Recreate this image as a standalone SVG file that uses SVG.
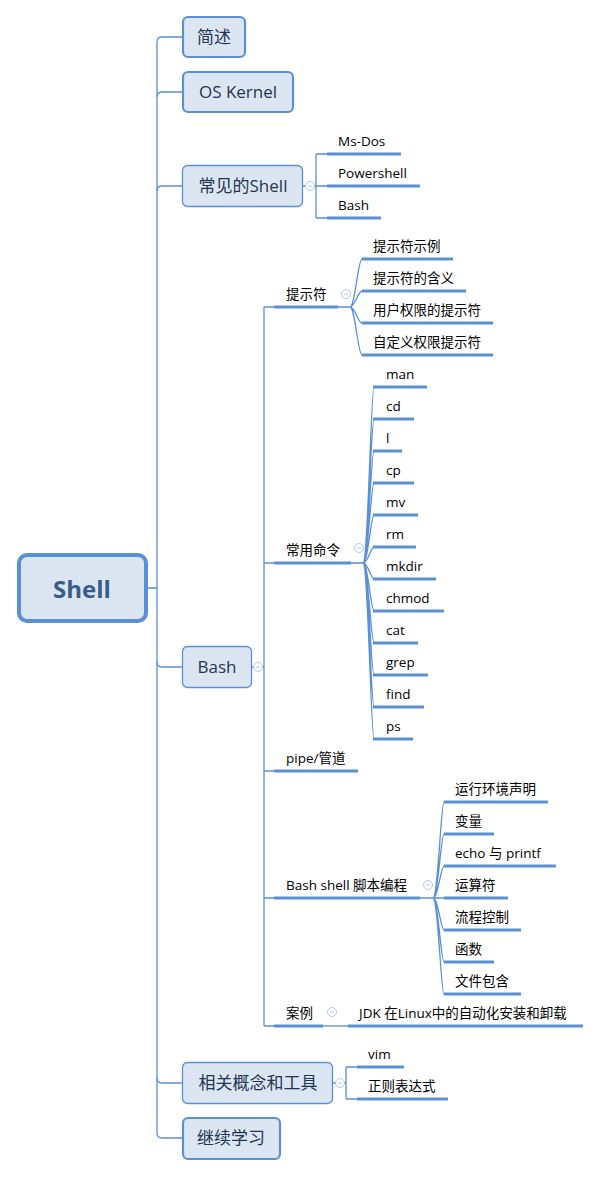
<svg xmlns="http://www.w3.org/2000/svg" width="601" height="1177" viewBox="0 0 601 1177">
<style>
.ln{fill:none;stroke:#5b8fd6;stroke-width:1.3}
.ul{fill:none;stroke:#5b8fd6;stroke-width:3}
.n1{fill:#dce6f2;stroke:#5b8fd6;stroke-width:1.3}
.n1b{fill:#dce6f2;stroke:#5b8fd6;stroke-width:2.2}
.t1{font-family:"Open Sans","Noto Sans CJK SC",sans-serif;font-size:17px;fill:#1f3552;text-anchor:middle}
.t2{font-family:"Open Sans","Noto Sans CJK SC",sans-serif;font-size:13.5px;fill:#000}
.tg circle{fill:#fff;stroke:#b3c6ea;stroke-width:1}
.tg path{stroke:#b3c6ea;stroke-width:1}
</style>
<rect width="601" height="1177" fill="#fff"/>
<g id="connectors">
<path class="ln" d="M148,588 H157 M157,42 V1133"/>
<path class="ln" d="M157,42 Q157,37 162,37 H182 M157,97 Q157,92 162,92 H182 M157,191 Q157,186 162,186 H182 M157,662 Q157,667 162,667 H182 M157,1078 Q157,1083 162,1083 H182 M157,1133 Q157,1138 162,1138 H182"/>
<!-- 常见的Shell -->
<path class="ln" d="M303,186 H316 M316,154 V218 M316,154 H327 M316,186 H327 M316,218 H327"/>
<path class="ul" d="M327,154 H401 M327,186 H420 M327,218 H381"/>
<!-- Bash -->
<path class="ln" d="M252,667 H264 M264,307 V1026 M264,307 H274 M264,563 H274 M264,771 H274 M264,898 H274 M264,1026 H274"/>
<path class="ul" d="M274,307 H338 M274,563 H351 M274,771 H358 M274,898 H420 M274,1026 H323"/>
<!-- 提示符 -->
<path class="ln" d="M338,307 H350 M350,307 C355,307 358,259 362,259 M350,307 C355,307 358,291 362,291 M350,307 C355,307 358,323 362,323 M350,307 C355,307 358,355 362,355"/>
<path class="ul" d="M362,259 H453 M362,291 H466 M362,323 H493 M362,355 H493"/>
<!-- 常用命令 -->
<path class="ln" d="M351,563 H363 M363,563 C368,563 371,387 374,387 M363,563 C368,563 371,419 374,419 M363,563 C368,563 371,451 374,451 M363,563 C368,563 371,483 374,483 M363,563 C368,563 371,515 374,515 M363,563 C368,563 371,547 374,547 M363,563 C368,563 371,579 374,579 M363,563 C368,563 371,611 374,611 M363,563 C368,563 371,643 374,643 M363,563 C368,563 371,675 374,675 M363,563 C368,563 371,707 374,707 M363,563 C368,563 371,739 374,739"/>
<path class="ul" d="M373,387 H427 M373,419 H414 M373,451 H402 M373,483 H414 M373,515 H418 M373,547 H416 M373,579 H436 M373,611 H444 M373,643 H418 M373,675 H428 M373,707 H424 M373,739 H413"/>
<!-- Bash shell 脚本编程 -->
<path class="ln" d="M420,898 H433 M433,898 C438,898 441,802 444,802 M433,898 C438,898 441,834 444,834 M433,898 C438,898 441,866 444,866 M433,898 H444 M433,898 C438,898 441,930 444,930 M433,898 C438,898 441,962 444,962 M433,898 C438,898 441,994 444,994"/>
<path class="ul" d="M444,802 H548 M444,834 H494 M444,866 H556 M444,898 H508 M444,930 H521 M444,962 H494 M444,994 H521"/>
<!-- 案例 -->
<path class="ln" d="M323,1026 H348"/>
<path class="ul" d="M348,1026 H583"/>
<!-- 相关概念和工具 -->
<path class="ln" d="M333,1083 H346 M346,1067 V1099 M346,1067 H357 M346,1099 H357"/>
<path class="ul" d="M357,1067 H404 M357,1099 H448"/>
</g>
<g id="root">
<rect x="19" y="555" width="127" height="66" rx="8" fill="#dce6f2" stroke="#5b8fd6" stroke-width="4"/>
<text x="82" y="598" font-family="'Open Sans',sans-serif" font-size="24" font-weight="bold" fill="#385d8a" text-anchor="middle">Shell</text>
</g>
<g id="n-jianshu"><rect class="n1b" x="183" y="17" width="62" height="40" rx="5"/><text class="t1" x="214" y="43">简述</text></g>
<g id="n-oskernel"><rect class="n1b" x="183" y="72" width="110" height="40" rx="5"/><text class="t1" x="238" y="98">OS Kernel</text></g>
<g id="n-common-shell"><rect class="n1" x="182.5" y="165.5" width="120" height="41" rx="5"/><text class="t1" x="243" y="192">常见的Shell</text></g>
<g id="n-bash"><rect class="n1" x="182.5" y="646.5" width="69" height="41" rx="5"/><text class="t1" x="217" y="673">Bash</text></g>
<g id="n-related"><rect class="n1" x="182.5" y="1062.5" width="150" height="41" rx="5"/><text class="t1" x="258" y="1089">相关概念和工具</text></g>
<g id="n-continue"><rect class="n1b" x="183" y="1118" width="97" height="41" rx="5"/><text class="t1" x="231" y="1144">继续学习</text></g>
<g id="shells">
<text class="t2" x="338" y="146">Ms-Dos</text>
<text class="t2" x="338" y="178">Powershell</text>
<text class="t2" x="338" y="210">Bash</text>
</g>
<g id="bash-children">
<text class="t2" x="286" y="299">提示符</text>
<text class="t2" x="286" y="555">常用命令</text>
<text class="t2" x="286" y="763">pipe/管道</text>
<text class="t2" x="286" y="890">Bash shell 脚本编程</text>
<text class="t2" x="286" y="1018">案例</text>
</g>
<g id="prompt-children">
<text class="t2" x="373" y="251">提示符示例</text>
<text class="t2" x="373" y="283">提示符的含义</text>
<text class="t2" x="373" y="315">用户权限的提示符</text>
<text class="t2" x="373" y="347">自定义权限提示符</text>
</g>
<g id="command-children">
<text class="t2" x="386" y="379">man</text>
<text class="t2" x="386" y="411">cd</text>
<text class="t2" x="386" y="443">l</text>
<text class="t2" x="386" y="475">cp</text>
<text class="t2" x="386" y="507">mv</text>
<text class="t2" x="386" y="539">rm</text>
<text class="t2" x="386" y="571">mkdir</text>
<text class="t2" x="386" y="603">chmod</text>
<text class="t2" x="386" y="635">cat</text>
<text class="t2" x="386" y="667">grep</text>
<text class="t2" x="386" y="699">find</text>
<text class="t2" x="386" y="731">ps</text>
</g>
<g id="script-children">
<text class="t2" x="455" y="794">运行环境声明</text>
<text class="t2" x="455" y="826">变量</text>
<text class="t2" x="455" y="858">echo 与 printf</text>
<text class="t2" x="455" y="890">运算符</text>
<text class="t2" x="455" y="922">流程控制</text>
<text class="t2" x="455" y="954">函数</text>
<text class="t2" x="455" y="986">文件包含</text>
</g>
<g id="case-children"><text class="t2" x="359" y="1018">JDK 在Linux中的自动化安装和卸载</text></g>
<g id="related-children">
<text class="t2" x="368" y="1059">vim</text>
<text class="t2" x="368" y="1091">正则表达式</text>
</g>
<g id="toggles" class="tg">
<circle cx="310" cy="186" r="4.5"/><path d="M308,186 H312"/>
<circle cx="258" cy="667" r="4.5"/><path d="M256,667 H260"/>
<circle cx="340" cy="1083" r="4.5"/><path d="M338,1083 H342"/>
<circle cx="346" cy="294" r="4.5"/><path d="M344,294 H348"/>
<circle cx="359" cy="548" r="4.5"/><path d="M357,548 H361"/>
<circle cx="428" cy="885" r="4.5"/><path d="M426,885 H430"/>
<circle cx="332" cy="1012" r="4.5"/><path d="M330,1012 H334"/>
</g>
</svg>
